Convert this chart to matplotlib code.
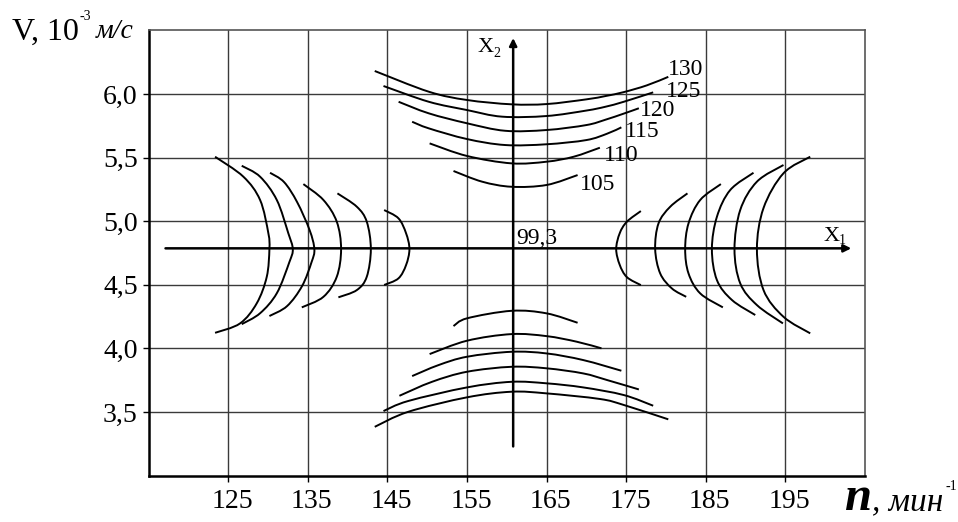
import numpy as np
import matplotlib.pyplot as plt
from matplotlib.path import Path
from matplotlib.patches import PathPatch
from matplotlib.transforms import ScaledTranslation

plt.rcParams['font.family'] = ['Liberation Serif', 'DejaVu Serif']

# ---- level lines, upper family (labelled) ------------------------------
upper_levels = [130, 125, 120, 115, 110, 105]
upper_n = [
    [143.4, 150.2, 155.0, 160.6, 165.0, 170.0, 172.4, 174.7, 177.6, 180.3],
    [144.5, 150.2, 155.0, 159.4, 165.0, 170.0, 172.4, 174.7, 178.4],
    [146.4, 150.2, 155.0, 159.8, 165.0, 170.0, 172.4, 174.7, 176.6],
    [148.1, 150.2, 155.0, 159.8, 165.0, 170.0, 172.6, 174.4],
    [150.3, 155.0, 160.6, 165.0, 168.4, 171.7],
    [153.3, 156.9, 160.6, 165.0, 168.9],
]
upper_v = [
    [6.181, 6.018, 5.953, 5.919, 5.921, 5.958, 5.984, 6.015, 6.068, 6.135],
    [6.063, 5.939, 5.874, 5.822, 5.827, 5.870, 5.900, 5.939, 6.013],
    [5.939, 5.848, 5.770, 5.711, 5.717, 5.756, 5.798, 5.846, 5.888],
    [5.782, 5.730, 5.646, 5.599, 5.605, 5.638, 5.688, 5.738],
    [5.612, 5.513, 5.455, 5.468, 5.507, 5.578],
    [5.395, 5.311, 5.271, 5.285, 5.363],
]
label_n = [180.3, 180.0, 176.7, 174.8, 172.2, 169.2]
label_v = [6.189, 6.018, 5.874, 5.704, 5.520, 5.285]

# ---- lower family ------------------------------------------------------
lower_n = [
    [153.3, 155.0, 160.6, 165.0, 168.9],
    [150.3, 155.0, 160.6, 165.0, 168.8, 171.9],
    [148.1, 151.4, 155.0, 160.6, 165.0, 169.6, 174.4],
    [146.5, 150.6, 155.0, 160.6, 165.0, 169.6, 172.6, 176.6],
    [144.5, 147.6, 155.0, 160.6, 165.0, 169.6, 174.7, 178.4],
    [143.4, 147.6, 155.0, 160.6, 165.0, 171.7, 174.7, 180.3],
]
lower_v = [
    [4.176, 4.237, 4.296, 4.276, 4.202],
    [3.956, 4.061, 4.113, 4.097, 4.053, 4.001],
    [3.783, 3.869, 3.935, 3.974, 3.961, 3.909, 3.825],
    [3.628, 3.738, 3.817, 3.856, 3.844, 3.804, 3.752, 3.678],
    [3.508, 3.587, 3.694, 3.738, 3.726, 3.694, 3.634, 3.550],
    [3.384, 3.502, 3.616, 3.660, 3.647, 3.603, 3.556, 3.443],
]

# ---- left family -------------------------------------------------------
left_n = [
    [123.33, 126.89, 128.99, 130.03, 130.16, 129.83, 128.57, 126.47, 123.33],
    [126.68, 128.99, 131.09, 132.54, 133.10, 132.67, 131.09, 128.99, 126.68],
    [130.24, 132.00, 133.64, 135.21, 135.81, 135.46, 134.27, 132.38, 130.16],
    [134.43, 136.95, 138.63, 139.17, 138.63, 136.95, 134.23],
    [138.71, 141.15, 142.40, 142.91, 142.40, 141.15, 138.83],
    [144.58, 146.38, 147.34, 147.76, 147.34, 146.38, 144.58],
]
left_v = [
    [5.507, 5.350, 5.167, 4.905, 4.781, 4.564, 4.355, 4.197, 4.123],
    [5.436, 5.350, 5.167, 4.905, 4.781, 4.679, 4.434, 4.277, 4.191],
    [5.381, 5.308, 5.151, 4.931, 4.781, 4.679, 4.491, 4.333, 4.255],
    [5.292, 5.167, 4.996, 4.781, 4.564, 4.406, 4.323],
    [5.219, 5.114, 4.996, 4.781, 4.564, 4.459, 4.402],
    [5.088, 5.023, 4.905, 4.781, 4.656, 4.551, 4.499],
]

# ---- right family ------------------------------------------------------
right_n = [
    [176.85, 175.09, 174.19, 173.75, 174.19, 175.09, 176.85],
    [182.71, 180.54, 179.07, 178.65, 179.28, 180.75, 182.55],
    [186.91, 184.31, 182.84, 182.42, 182.84, 184.31, 187.16],
    [191.01, 188.08, 186.41, 185.78, 186.41, 188.30, 191.23],
    [194.78, 191.44, 189.34, 188.62, 189.34, 191.44, 194.71],
    [198.14, 194.78, 192.27, 191.44, 192.27, 194.78, 198.14],
]
right_v = [
    [5.080, 4.996, 4.905, 4.781, 4.658, 4.561, 4.498],
    [5.219, 5.114, 4.983, 4.781, 4.590, 4.472, 4.406],
    [5.292, 5.167, 4.983, 4.781, 4.590, 4.433, 4.323],
    [5.381, 5.245, 5.035, 4.781, 4.538, 4.381, 4.263],
    [5.442, 5.311, 5.088, 4.781, 4.512, 4.341, 4.197],
    [5.507, 5.377, 5.104, 4.781, 4.459, 4.249, 4.119],
]

# coded axes X1, X2 and the centre value
x1_level = 4.787
x1_span = (117.1, 203.3)
x2_pos = 160.8
x2_span = (3.23, 6.44)
centre_value = "99,3"

xticks = [125, 135, 145, 155, 165, 175, 185, 195]
yticks = [3.5, 4.0, 4.5, 5.0, 5.5, 6.0]
ytick_labels = ["3,5", "4,0", "4,5", "5,0", "5,5", "6,0"]


def smooth_path(n, v):
    # cubic Bezier through the given points (Catmull-Rom tangents)
    pts = np.column_stack([n, v])
    ext = np.vstack([pts[0], pts, pts[-1]])
    verts = [pts[0]]
    codes = [Path.MOVETO]
    for i in range(1, len(ext) - 2):
        p0, p1, p2, p3 = ext[i - 1], ext[i], ext[i + 1], ext[i + 2]
        verts += [p1 + (p2 - p0) / 6, p2 - (p3 - p1) / 6, p2]
        codes += [Path.CURVE4] * 3
    return Path(verts, codes)


W, H = 958, 522
fig = plt.figure(figsize=(W / 100, H / 100), dpi=100)
ax = fig.add_axes([148.8 / W, 1 - 475.7 / H, 716 / W, 445.3 / H])
ax.set_xlim(115, 205)
ax.set_ylim(3.0, 6.5)

ax.set_xticks(xticks)
ax.set_yticks(yticks)
ax.set_yticklabels(ytick_labels)
ax.tick_params(direction='out', length=4.5, width=1.0, labelsize=20, pad=3.5)
ax.tick_params(axis='x', pad=5)
ax.grid(True, color='#3a3a3a', lw=1.0)
ax.set_axisbelow(True)
for s in ('left', 'bottom'):
    ax.spines[s].set_linewidth(1.8)
    ax.spines[s].set_color('black')
for s in ('top', 'right'):
    ax.spines[s].set_linewidth(1.2)
    ax.spines[s].set_color('#555555')

shift = ScaledTranslation(4 / 100, 0, fig.dpi_scale_trans)
for lab in ax.get_xticklabels():
    lab.set_transform(lab.get_transform() + shift)

lw = 1.4
for fam_n, fam_v in [(upper_n, upper_v), (lower_n, lower_v),
                     (left_n, left_v), (right_n, right_v)]:
    for n, v in zip(fam_n, fam_v):
        ax.add_patch(PathPatch(smooth_path(n, v), fill=False, lw=lw,
                               edgecolor='black', capstyle='butt',
                               joinstyle='round'))

for lev, xn, yv in zip(upper_levels, label_n, label_v):
    ax.text(xn, yv, str(lev), fontsize=17, ha='left', va='center')

# X1 and X2 coded axes with arrows
ax.annotate('', xy=(x1_span[1], x1_level), xytext=(x1_span[0], x1_level),
            arrowprops=dict(arrowstyle='-|>', lw=1.8, color='black',
                            mutation_scale=11, shrinkA=0, shrinkB=0))
ax.annotate('', xy=(x2_pos, x2_span[1]), xytext=(x2_pos, x2_span[0]),
            arrowprops=dict(arrowstyle='-|>', lw=1.8, color='black',
                            mutation_scale=11, shrinkA=0, shrinkB=0))
ax.text(161.2, 4.866, centre_value, fontsize=17, ha='left', va='center')
ax.text(199.8, 4.884, "X", fontsize=16, ha='left', va='center')
ax.text(201.75, 4.845, "1", fontsize=10, ha='left', va='center')
ax.text(156.3, 6.362, "X", fontsize=16, ha='left', va='center')
ax.text(158.3, 6.322, "2", fontsize=10, ha='left', va='center')

# axis titles
fig.text(12 / W, 1 - 40 / H, "V, 10", fontsize=23, va='baseline', ha='left')
fig.text(80 / W, 1 - 16 / H, "-3", fontsize=10, va='center', ha='left')
fig.text(96 / W, 1 - 38 / H, "м/с", fontsize=20, style='italic',
         va='baseline', ha='left')

fig.text(845 / W, 1 - 510 / H, "n", fontsize=35, style='italic',
         weight='bold', va='baseline', ha='left')
fig.text(872 / W, 1 - 510 / H, ", мин", fontsize=24, style='italic',
         va='baseline', ha='left')
fig.text(946 / W, 1 - 487 / H, "-1", fontsize=10, va='center', ha='left')

fig.savefig('out.png', dpi=100)
